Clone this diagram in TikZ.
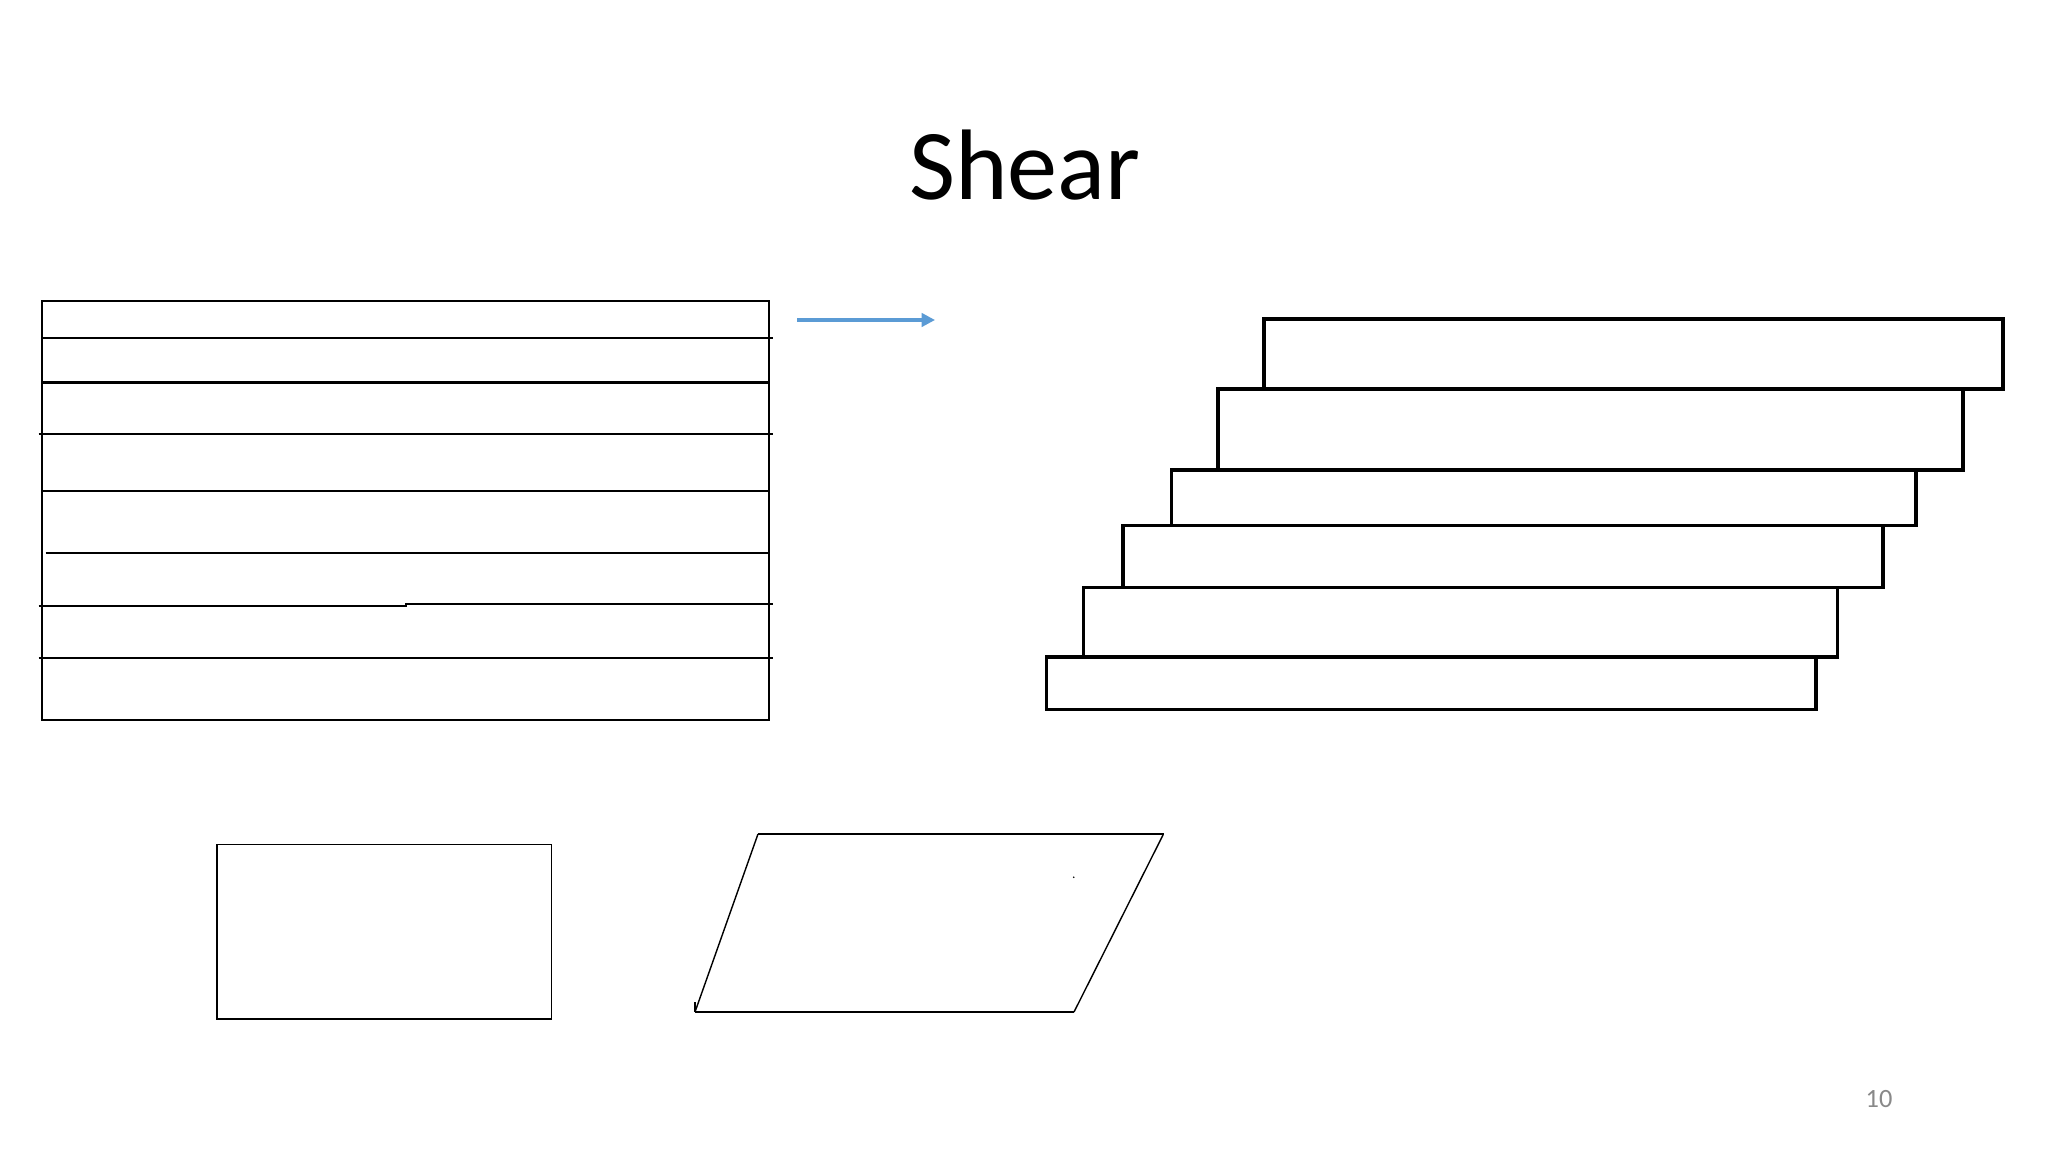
\documentclass[tikz,border=0pt]{standalone}
\usepackage{fontspec}
\setmainfont{Carlito}
\usetikzlibrary{arrows.meta}
\definecolor{arrowblue}{RGB}{91,155,213}
\definecolor{pagegray}{RGB}{137,137,137}
\tikzset{
  stackline/.style={line width=0.8pt,black},
  slab/.style={line width=1.0pt,black},
  thinbox/.style={line width=0.45pt,black},
  blueArrow/.style={line width=0.9pt,arrowblue,-{Triangle[length=3.8pt,width=3.8pt]}},
}
\begin{document}
\begin{tikzpicture}[x=0.01cm,y=-0.01cm]
\fill[white] (0,0) rectangle (2048,1152);
\useasboundingbox (0,0) rectangle (2048,1152);
% title
\node[anchor=base,font=\fontsize{28.5}{34}\selectfont] (title) at (1025,200) {Shear};
% left stack
\draw[stackline] (42,301) rectangle (769,720);
\draw[stackline] (42,338) -- (773,338);
\draw[stackline] (42,382.5) -- (769,382.5);
\draw[stackline] (38.7,434) -- (773,434);
\draw[stackline] (42,491) -- (769,491);
\draw[stackline] (45.5,553) -- (769,553);
\draw[stackline] (38.7,606) -- (406,606) -- (406,604) -- (773,604);
\draw[stackline] (38.7,658) -- (773,658);
% arrow
\coordinate (arrS) at (797,320);
\coordinate (arrE) at (935,320);
\draw[blueArrow] (arrS) -- (arrE);
% right stack
\draw[slab] (1264,319) rectangle (2003,389);
\draw[slab] (1218,389) rectangle (1963,470);
\draw[slab] (1171.5,470) rectangle (1916,525.5);
\draw[slab] (1123,525.5) rectangle (1883,587.5);
\draw[slab] (1083.5,587.5) rectangle (1837.5,657);
\draw[slab] (1046.5,657) rectangle (1816,709.5);
% bottom rectangle
\draw[thinbox] (217,844.5) rectangle (551.5,1019);
% bottom parallelogram
\draw[line width=0.6pt] (758,834) -- (1164,834);
\draw[line width=0.6pt] (695,1012) -- (1074,1012);
\draw[line width=0.4pt] (758,834) -- (695,1012);
\draw[line width=0.4pt] (1163,835) -- (1074,1012);
\draw[line width=0.45pt] (695,1002) -- (695,1012);
\fill (1073.7,877.3) circle (0.9);
% page number
\node[font=\fontsize{7.5}{9}\selectfont,text=pagegray] (pagenum) at (1879,1099) {10};
\end{tikzpicture}
\end{document}
